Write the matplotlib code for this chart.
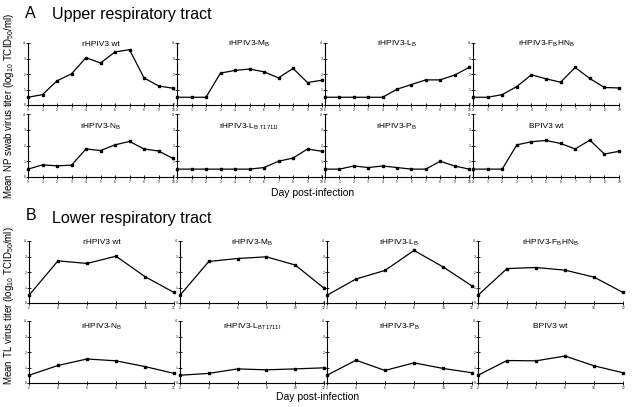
import matplotlib
matplotlib.use("Agg")
import matplotlib.pyplot as plt

plt.rcParams['font.family'] = ['Liberation Sans', 'DejaVu Sans']
plt.rcParams['mathtext.fontset'] = 'custom'
plt.rcParams['mathtext.rm'] = 'Liberation Sans'

# ---- data ----
upper_days = [0, 1, 2, 3, 4, 5, 6, 7, 8, 9, 10]
lower_days = [2, 4, 6, 8, 10, 12]

viruses_upper = ["rHPIV3 wt", r"rHPIV3-M$_\mathrm{B}$", r"rHPIV3-L$_\mathrm{B}$",
                 r"rHPIV3-F$_\mathrm{B}$HN$_\mathrm{B}$",
                 r"rHPIV3-N$_\mathrm{B}$", r"rHPIV3-L$_\mathrm{B\ T1711I}$",
                 r"rHPIV3-P$_\mathrm{B}$", "BPIV3 wt"]
viruses_lower = ["rHPIV3 wt", r"rHPIV3-M$_\mathrm{B}$", r"rHPIV3-L$_\mathrm{B}$",
                 r"rHPIV3-F$_\mathrm{B}$HN$_\mathrm{B}$",
                 r"rHPIV3-N$_\mathrm{B}$", r"rHPIV3-L$_\mathrm{BT1711I}$",
                 r"rHPIV3-P$_\mathrm{B}$", "BPIV3 wt"]

np_wt      = [0.5, 0.67, 1.56, 2.01, 3.05, 2.71, 3.42, 3.57, 1.75, 1.23, 1.08]
np_mb      = [0.5, 0.5, 0.5, 2.06, 2.23, 2.32, 2.14, 1.75, 2.36, 1.45, 1.6]
np_lb      = [0.5, 0.5, 0.5, 0.5, 0.5, 1.02, 1.32, 1.62, 1.62, 1.93, 2.42]
np_fbhnb   = [0.5, 0.5, 0.67, 1.19, 1.95, 1.69, 1.47, 2.42, 1.71, 1.13, 1.1]
np_nb      = [0.5, 0.77, 0.71, 0.75, 1.78, 1.68, 2.04, 2.26, 1.78, 1.65, 1.18]
np_lbt     = [0.5, 0.5, 0.5, 0.5, 0.5, 0.5, 0.6, 1.0, 1.2, 1.78, 1.63]
np_pb      = [0.5, 0.5, 0.7, 0.6, 0.7, 0.6, 0.5, 0.5, 1.0, 0.7, 0.5]
np_bpiv3   = [0.5, 0.5, 0.5, 2.04, 2.24, 2.32, 2.13, 1.78, 2.34, 1.46, 1.63]

tl_wt      = [0.5, 2.72, 2.55, 3.02, 1.70, 0.68]
tl_mb      = [0.5, 2.68, 2.87, 2.98, 2.45, 0.96]
tl_lb      = [0.5, 1.55, 2.10, 3.39, 2.33, 1.10]
tl_fbhnb   = [0.5, 2.22, 2.29, 2.12, 1.67, 0.68]
tl_nb      = [0.5, 1.13, 1.55, 1.43, 1.06, 0.62]
tl_lbt     = [0.5, 0.62, 0.91, 0.85, 0.91, 0.98]
tl_pb      = [0.5, 1.47, 0.81, 1.30, 0.94, 0.66]
tl_bpiv3   = [0.5, 1.45, 1.43, 1.74, 1.11, 0.66]

upper_series = [np_wt, np_mb, np_lb, np_fbhnb, np_nb, np_lbt, np_pb, np_bpiv3]
lower_series = [tl_wt, tl_mb, tl_lb, tl_fbhnb, tl_nb, tl_lbt, tl_pb, tl_bpiv3]
y_ticks = [0, 1, 2, 3, 4]

W, H = 633, 407
fig = plt.figure(figsize=(W / 100, H / 100), dpi=100)
fig.patch.set_facecolor('white')


def add_ax(x0, x1, ytop, ybot):
    return fig.add_axes([x0 / W, 1 - ybot / H, (x1 - x0) / W, (ybot - ytop) / H])


def style(ax, xs, xlim):
    ax.set_xlim(*xlim)
    ax.set_ylim(0, 4)
    for s in ['top', 'right']:
        ax.spines[s].set_visible(False)
    for s in ['left', 'bottom']:
        ax.spines[s].set_linewidth(0.8)
    ax.set_xticks(xs)
    ax.set_yticks(y_ticks)
    ax.tick_params(axis='both', direction='inout', length=3, width=0.6,
                   labelsize=2.3, pad=0.5)
    ax.patch.set_alpha(0)


upper_cols = [(28, 173), (177, 322), (325, 469), (473, 619)]
upper_rows = [(43, 105), (114, 177)]
upper_title_y = [44, 127]
lower_cols = [(29, 174), (180, 324), (327, 472), (478, 623)]
lower_rows = [(241, 303), (321, 383)]
lower_title_y = [243, 327]


def place_title(ax, ytop, ybot, ypix, name):
    frac = (ybot - ypix) / (ybot - ytop)
    ax.text(0.5, frac, name, transform=ax.transAxes, ha='center', va='center',
            fontsize=6)


for i, (name, vals) in enumerate(zip(viruses_upper, upper_series)):
    r, c = divmod(i, 4)
    ax = add_ax(upper_cols[c][0], upper_cols[c][1], upper_rows[r][0], upper_rows[r][1])
    ax.plot(upper_days, vals, color='black', lw=0.9, marker='s', ms=1.8,
            clip_on=False)
    style(ax, upper_days, (0, 10))
    place_title(ax, upper_rows[r][0], upper_rows[r][1], upper_title_y[r], name)

for i, (name, vals) in enumerate(zip(viruses_lower, lower_series)):
    r, c = divmod(i, 4)
    ax = add_ax(lower_cols[c][0], lower_cols[c][1], lower_rows[r][0], lower_rows[r][1])
    ax.plot(lower_days, vals, color='black', lw=0.9, marker='s', ms=1.8,
            clip_on=False)
    style(ax, lower_days, (2, 12))
    place_title(ax, lower_rows[r][0], lower_rows[r][1], lower_title_y[r], name)

# section headings
fig.text(25 / W, 1 - 13 / H, "A", fontsize=11.5, va='center', ha='left')
fig.text(52 / W, 1 - 15 / H, "Upper respiratory tract", fontsize=11.5,
         va='center', ha='left')
fig.text(26 / W, 1 - 215 / H, "B", fontsize=11.5, va='center', ha='left')
fig.text(52 / W, 1 - 218 / H, "Lower respiratory tract", fontsize=11.5,
         va='center', ha='left')

fig.text(313 / W, 1 - 193 / H, "Day post-infection", fontsize=7.5,
         ha='center', va='center')
fig.text(318 / W, 1 - 397 / H, "Day post-infection", fontsize=7.5,
         ha='center', va='center')

fig.text(9 / W, 1 - 106 / H,
         r"Mean NP swab virus titer (log$_{10}$ TCID$_{50}$/ml)",
         rotation=90, fontsize=7.0, ha='center', va='center')
fig.text(9 / W, 1 - 306 / H,
         r"Mean TL virus titer (log$_{10}$ TCID$_{50}$/ml)",
         rotation=90, fontsize=7.0, ha='center', va='center')

fig.savefig("out.png", dpi=100)
